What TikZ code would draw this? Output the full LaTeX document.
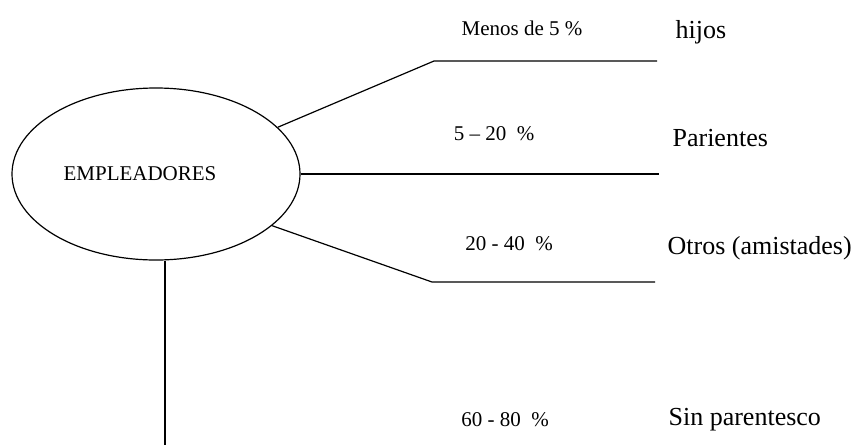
\documentclass[tikz,border=0pt]{standalone}
\usepackage{fontspec}
\setmainfont{Liberation Serif}
\usetikzlibrary{shapes.geometric}
\tikzset{
  share/.style={font=\fontsize{21}{25}\selectfont},
  kin/.style={font=\fontsize{26}{30}\selectfont, anchor=west},
}

\begin{document}
\begin{tikzpicture}[x=1pt, y=-1pt, line width=1.2pt, every node/.style={inner sep=0pt}]
\useasboundingbox (0,0) rectangle (857,445);
\node[ellipse, draw, minimum width=288pt, minimum height=172pt, label={[share, xshift=-16pt]center:EMPLEADORES}] (emp) at (156,174) {};
\coordinate (hijosBend) at (434,61);
\coordinate (hijosEnd) at (657,61);
\coordinate (parEnd) at (659,174);
\coordinate (otrosBend) at (432,282);
\coordinate (otrosEnd) at (655,282);
\coordinate (sinEnd) at (165,445);
\draw (emp.21) -- (hijosBend) -- (hijosEnd);
\draw (emp.east) -- (parEnd);
\draw (emp.-24) -- (otrosBend) -- (otrosEnd);
\draw (sinEnd |- emp.south) -- (sinEnd);
\node[share] (pHijos) at (522,28) {Menos de 5 \%};
\node[kin] (hijos) at (675,32) {hijos};
\node[share] (pPar) at (494,134) {5 -- 20 \ \%};
\node[kin] (par) at (672,138) {Parientes};
\node[share] (pOtros) at (509,244) {20 - 40 \ \%};
\node[kin] (otros) at (667,248) {Otros (amistades)};
\node[share] (pSin) at (505,420) {60 - 80 \ \%};
\node[kin] (sin) at (668,420) {Sin parentesco};
\end{tikzpicture}
\end{document}
